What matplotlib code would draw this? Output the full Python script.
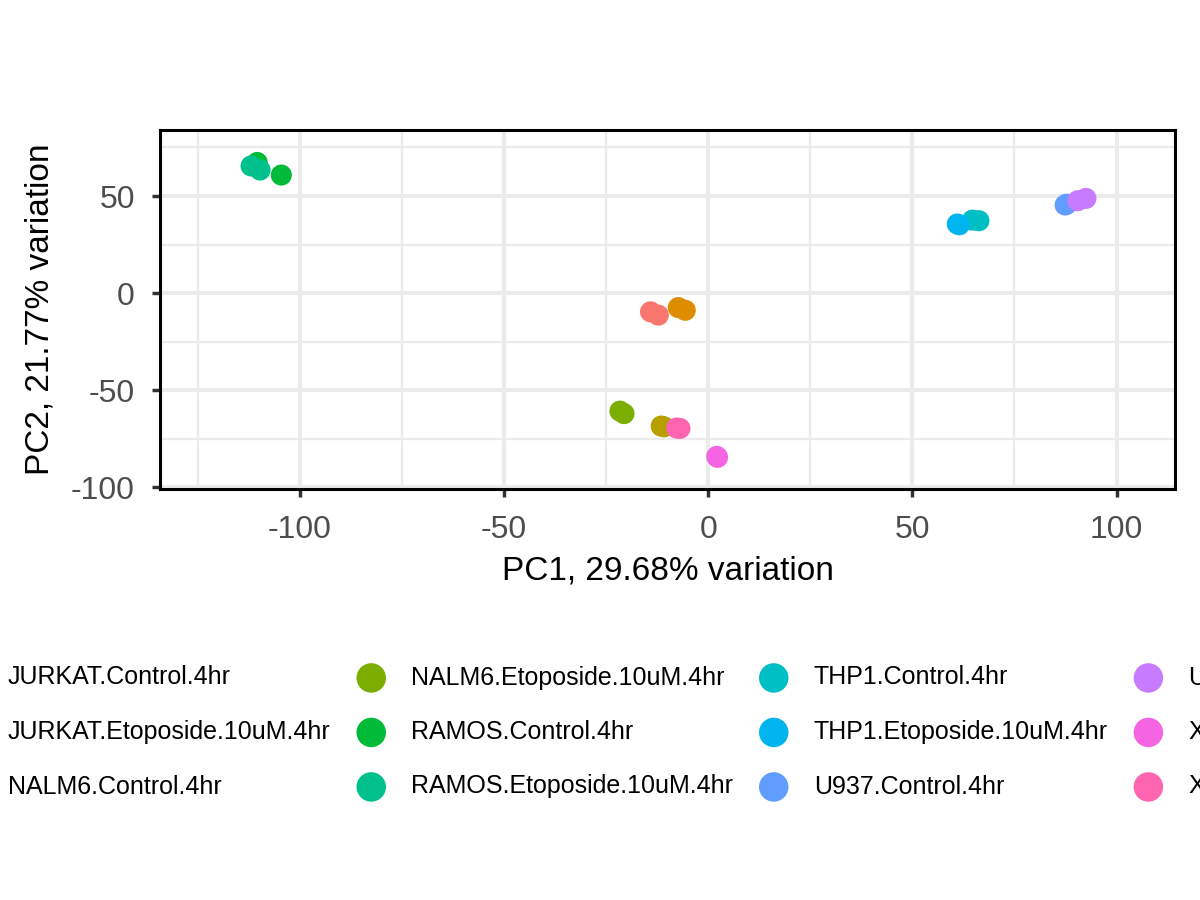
import numpy as np
import matplotlib.pyplot as plt

plt.rcParams['font.family'] = ['Liberation Sans', 'DejaVu Sans']
plt.rcParams['axes.unicode_minus'] = False

# groups, colours (ggplot hue palette) and PC coordinates
groups = ['JURKAT.Control.4hr', 'JURKAT.Etoposide.10uM.4hr', 'NALM6.Control.4hr',
          'NALM6.Etoposide.10uM.4hr', 'RAMOS.Control.4hr', 'RAMOS.Etoposide.10uM.4hr',
          'THP1.Control.4hr', 'THP1.Etoposide.10uM.4hr', 'U937.Control.4hr',
          'U937.Etoposide.10uM.4hr', 'XXX.Control.4hr', 'XXX.Etoposide.10uM.4hr']
colors = ['#F8766D', '#DE8C00', '#B79F00', '#7CAE00', '#00BA38', '#00C08B',
          '#00BFC4', '#00B4F0', '#619CFF', '#C77CFF', '#F564E3', '#FF64B0']
pc1 = [[-14.1, -12.2], [-7.3, -5.6], [-11.5, -10.8], [-21.6, -20.6],
       [-110.4, -104.5], [-111.9, -109.7], [64.7, 66.3], [61.0, 61.5],
       [87.4, 87.8], [90.5, 92.5], [2.1, 2.3], [-7.7, -6.9]]
pc2 = [[-9.6, -11.3], [-7.4, -8.8], [-68.4, -68.8], [-60.7, -62.0],
       [67.3, 60.8], [65.5, 63.4], [37.6, 37.3], [35.6, 35.2],
       [45.4, 45.8], [47.6, 48.8], [-84.0, -84.5], [-69.4, -69.6]]

xticks = [-100, -50, 0, 50, 100]
yticks = [-100, -50, 0, 50]

fig = plt.figure(figsize=(12, 9), dpi=100)
ax = fig.add_axes([160/1200, 1 - 489/900, 1015/1200, 359/900])

for g, c, x, y in zip(groups, colors, pc1, pc2):
    ax.scatter(x, y, s=230, color=c, label=g, edgecolors='none', zorder=3)

ax.set_xlim(-134.2, 114.3)
ax.set_ylim(-100.8, 84)
ax.set_xticks(xticks)
ax.set_yticks(yticks)
ax.set_xticks([-125, -75, -25, 25, 75], minor=True)
ax.set_yticks([-75, -25, 25, 75], minor=True)
ax.grid(which='major', color='#EBEBEB', lw=3, zorder=0)
ax.grid(which='minor', color='#EBEBEB', lw=1.6, zorder=0)
ax.set_axisbelow(True)
for sp in ax.spines.values():
    sp.set_linewidth(2.2)
    sp.set_color('black')
ax.tick_params(which='major', length=6, width=2.5, color='#333333',
               labelcolor='#4D4D4D', labelsize=23)
ax.tick_params(axis='y', pad=12)
ax.tick_params(axis='x', pad=13)
ax.tick_params(which='minor', length=0)

ax.set_xlabel('PC1, 29.68% variation', fontsize=24, labelpad=7)
ax.set_ylabel('PC2, 21.77% variation', fontsize=24, labelpad=11)

leg = fig.legend(loc='center left', bbox_to_anchor=(-47/1200, 1 - 732/900),
                 ncol=4, frameon=False, fontsize=18, markerscale=1.4,
                 handlelength=1.2, handletextpad=1.0, columnspacing=1.02,
                 labelspacing=1.22, borderpad=0, borderaxespad=0)

fig.savefig('out.png', dpi=100)
